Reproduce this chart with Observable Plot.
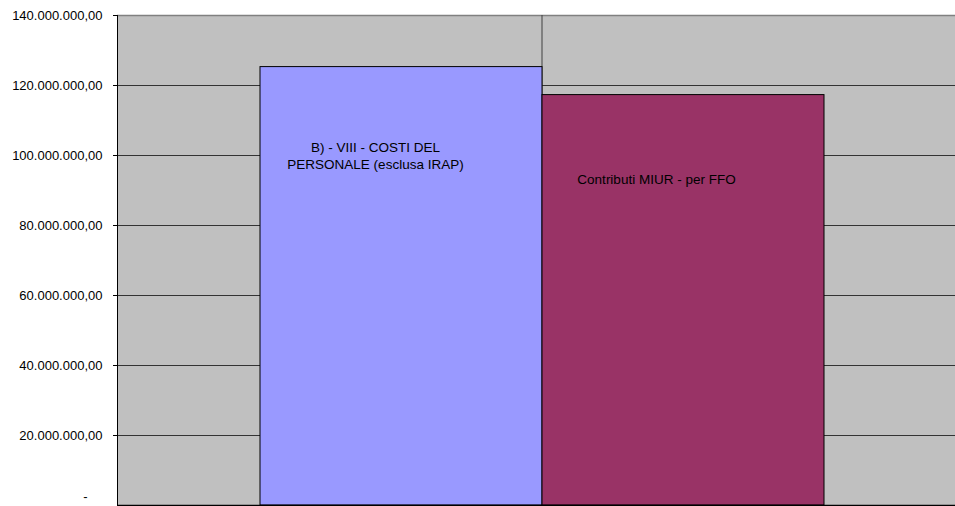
<!DOCTYPE html>
<html>
<head>
<meta charset="utf-8">
<script src="https://cdn.jsdelivr.net/npm/d3@7"></script>
<script src="https://cdn.jsdelivr.net/npm/@observablehq/plot@0.6"></script>
<style>
  html, body { margin: 0; padding: 0; background: #fff; }
  #chart svg { display: block; }
</style>
</head>
<body>
<div id="chart"></div>
<script>
const categories = ["B) - VIII - COSTI DEL\nPERSONALE (esclusa IRAP)", "Contributi MIUR - per FFO"];
const values = [125260000, 117260000];
const colors = ["#9999FF", "#993366"];
const yTicks = [0, 20000000, 40000000, 60000000, 80000000, 100000000, 120000000, 140000000];

const data = categories.map((c, i) => ({cat: c, value: values[i], color: colors[i]}));

const it = d3.formatLocale({decimal: ",", thousands: ".", grouping: [3], currency: ["", ""]});
const fmt = v => v === 0 ? "-" : it.format(",.2f")(v);

const W = 955, H = 506, ML = 117, MR = 0, MT = 15, MB = 1;
const pOuter = 0.4806;
const step = (W - ML - MR) / (categories.length + 2 * pOuter);

const chart = Plot.plot({
  width: W,
  height: H,
  marginLeft: ML,
  marginRight: MR,
  marginTop: MT,
  marginBottom: MB,
  style: {fontFamily: "Arial, 'Liberation Sans', sans-serif", background: "#fff", overflow: "visible"},
  x: {domain: categories, paddingInner: 0, paddingOuter: pOuter, align: 0.522, axis: null},
  y: {domain: [0, 140000000]},
  marks: [
    Plot.frame({fill: "#C0C0C0", stroke: null}),
    Plot.ruleY(yTicks.filter(t => t > 0 && t < 140000000), {stroke: "#333", strokeWidth: 1}),
    Plot.ruleY([140000000], {stroke: "#808080", strokeWidth: 1.5}),
    Plot.ruleX([categories[1]], {x: d => d, dx: -step / 2, y1: 0, y2: 140000000, stroke: "#404040", strokeWidth: 1}),
    Plot.barY(data, {x: "cat", y: "value", fill: "color", stroke: "#000", strokeWidth: 1}),
    Plot.text([data[0]], {x: "cat", y: "value", text: "cat", dx: -26, dy: 88, fontSize: 13.5, lineHeight: 1.25, fill: "#000"}),
    Plot.text([data[1]], {x: "cat", y: "value", text: "cat", dx: -27, dy: 85, fontSize: 13.5, fill: "#000"}),
    Plot.axisY({ticks: yTicks.filter(t => t > 0), tickFormat: fmt, tickSize: 4, tickPadding: 11, fontSize: 13, stroke: "#000", fill: "#000", label: null}),
    Plot.text([0], {y: d => d, text: d => fmt(d), frameAnchor: "left", textAnchor: "end", dx: -30, dy: -9, fontSize: 13, fill: "#000"}),
    Plot.frame({anchor: "left", stroke: "#000", strokeWidth: 1}),
    Plot.ruleY([0], {stroke: "#000", strokeWidth: 1.5})
  ]
});

document.getElementById("chart").appendChild(chart);
</script>
</body>
</html>
